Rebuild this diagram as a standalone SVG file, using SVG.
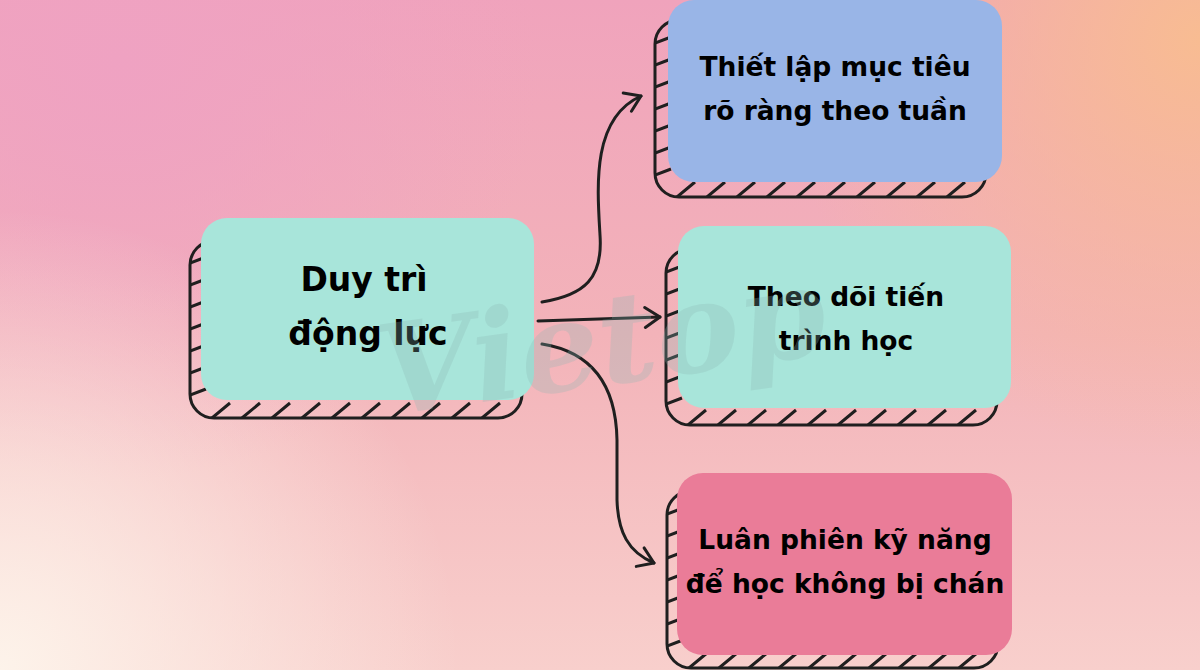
<svg xmlns="http://www.w3.org/2000/svg" width="1200" height="670" viewBox="0 0 1200 670">
  <defs>
    <linearGradient id="bg" x1="0" y1="0" x2="0" y2="1">
      <stop offset="0" stop-color="#F0A3BC"/>
      <stop offset="0.5" stop-color="#F3B3B9"/>
      <stop offset="1" stop-color="#F8CFCC"/>
    </linearGradient>
    <radialGradient id="peach" cx="1200" cy="40" r="420" gradientUnits="userSpaceOnUse">
      <stop offset="0" stop-color="#F8BC92" stop-opacity="1"/>
      <stop offset="1" stop-color="#F8BC92" stop-opacity="0"/>
    </radialGradient>
    <radialGradient id="cream" cx="0" cy="670" r="460" gradientUnits="userSpaceOnUse">
      <stop offset="0" stop-color="#FDF3EA" stop-opacity="1"/>
      <stop offset="1" stop-color="#FDF3EA" stop-opacity="0"/>
    </radialGradient>
    <radialGradient id="pinkTL" cx="120" cy="60" r="420" gradientUnits="userSpaceOnUse">
      <stop offset="0" stop-color="#EFA2C2" stop-opacity="1"/>
      <stop offset="1" stop-color="#EFA2C2" stop-opacity="0"/>
    </radialGradient>
    <clipPath id="c0"><rect x="190" y="241" width="332" height="177" rx="24"/></clipPath>
    <clipPath id="c1"><rect x="655" y="20" width="331" height="177" rx="24"/></clipPath>
    <clipPath id="c2"><rect x="666" y="249" width="331" height="176" rx="24"/></clipPath>
    <clipPath id="c3"><rect x="667" y="491" width="331" height="177" rx="24"/></clipPath>
    <marker id="head" viewBox="0 0 26 26" refX="21" refY="13" markerWidth="26" markerHeight="26" markerUnits="userSpaceOnUse" orient="auto">
      <path d="M6 3 L21 13 L6 23" fill="none" stroke="#1f1f1f" stroke-width="3" stroke-linecap="round" stroke-linejoin="round"/>
    </marker>
  </defs>
  <style>
    .shadow { fill: none; stroke: #1f1f1f; stroke-width: 3; }
    .tick { fill: none; stroke: #1f1f1f; stroke-width: 3; stroke-linecap: butt; }
    .conn { fill: none; stroke: #1f1f1f; stroke-width: 3; stroke-linecap: round; }
    .lbl { font-family: "DejaVu Sans", Inter, sans-serif; font-weight: 700; fill: #000; text-anchor: middle; }
    .big { font-size: 33px; }
    .small { font-size: 26.5px; }
  </style>

  <rect width="1200" height="670" fill="url(#bg)"/>
  <rect width="1200" height="670" fill="url(#pinkTL)"/>
  <rect width="1200" height="670" fill="url(#peach)"/>
  <rect width="1200" height="670" fill="url(#cream)"/>

  <g id="node-main">
    <g clip-path="url(#c0)">
      <path class="tick" d="M190 263 l16 -6 M190 285 l16 -6 M190 307 l16 -6 M190 329 l16 -6 M190 351 l16 -6 M190 373 l16 -6 M190 395 l16 -6"/>
      <path class="tick" d="M212 418 l18 -15 M242 418 l18 -15 M272 418 l18 -15 M302 418 l18 -15 M332 418 l18 -15 M362 418 l18 -15 M392 418 l18 -15 M422 418 l18 -15 M452 418 l18 -15 M482 418 l18 -15"/>
    </g>
    <rect class="shadow" x="190" y="241" width="332" height="177" rx="24"/>
    <rect x="201" y="218" width="333" height="182" rx="26" fill="#A8E5DA"/>
    <text class="lbl big" x="364" y="291">Duy trì</text>
    <text class="lbl big" x="368" y="345">động lực</text>
  </g>

  <g id="node-goals">
    <g clip-path="url(#c1)">
      <path class="tick" d="M655 43 l16 -6 M655 65 l16 -6 M655 87 l16 -6 M655 109 l16 -6 M655 131 l16 -6 M655 153 l16 -6 M655 175 l16 -6"/>
      <path class="tick" d="M677 197 l18 -15 M707 197 l18 -15 M737 197 l18 -15 M767 197 l18 -15 M797 197 l18 -15 M827 197 l18 -15 M857 197 l18 -15 M887 197 l18 -15 M917 197 l18 -15 M947 197 l18 -15"/>
    </g>
    <rect class="shadow" x="655" y="20" width="331" height="177" rx="24"/>
    <rect x="668" y="0" width="334" height="182" rx="26" fill="#99B5E7"/>
    <text class="lbl small" x="835" y="76">Thiết lập mục tiêu</text>
    <text class="lbl small" x="835" y="120">rõ ràng theo tuần</text>
  </g>

  <g id="node-track">
    <g clip-path="url(#c2)">
      <path class="tick" d="M666 272 l16 -6 M666 294 l16 -6 M666 316 l16 -6 M666 338 l16 -6 M666 360 l16 -6 M666 382 l16 -6 M666 404 l16 -6"/>
      <path class="tick" d="M688 425 l18 -15 M718 425 l18 -15 M748 425 l18 -15 M778 425 l18 -15 M808 425 l18 -15 M838 425 l18 -15 M868 425 l18 -15 M898 425 l18 -15 M928 425 l18 -15 M958 425 l18 -15"/>
    </g>
    <rect class="shadow" x="666" y="249" width="331" height="176" rx="24"/>
    <rect x="678" y="226" width="333" height="182" rx="26" fill="#A8E5DA"/>
    <text class="lbl small" x="846" y="306">Theo dõi tiến</text>
    <text class="lbl small" x="846" y="350">trình học</text>
  </g>

  <g id="node-rotate">
    <g clip-path="url(#c3)">
      <path class="tick" d="M667 514 l16 -6 M667 536 l16 -6 M667 558 l16 -6 M667 580 l16 -6 M667 602 l16 -6 M667 624 l16 -6 M667 646 l16 -6"/>
      <path class="tick" d="M689 668 l18 -15 M719 668 l18 -15 M749 668 l18 -15 M779 668 l18 -15 M809 668 l18 -15 M839 668 l18 -15 M869 668 l18 -15 M899 668 l18 -15 M929 668 l18 -15 M959 668 l18 -15"/>
    </g>
    <rect class="shadow" x="667" y="491" width="331" height="177" rx="24"/>
    <rect x="677" y="473" width="335" height="182" rx="26" fill="#EA7C98"/>
    <text class="lbl small" x="845" y="549">Luân phiên kỹ năng</text>
    <text class="lbl small" x="845" y="593">để học không bị chán</text>
  </g>

  <g id="connectors">
    <path class="conn" marker-end="url(#head)" d="M542 302 C585 295 603 278 600 235 C597 185 592 118 641 96"/>
    <path class="conn" marker-end="url(#head)" d="M538 321 L660 317"/>
    <path class="conn" marker-end="url(#head)" d="M542 344 C592 352 616 385 617 440 L617 500 C618 532 628 552 654 563"/>
  </g>

  <text x="600" y="385" font-family="'DejaVu Serif', serif" font-style="italic" font-weight="700" font-size="125" fill="#8DB8B4" fill-opacity="0.28" text-anchor="middle" transform="rotate(-8 600 330)">Vietop</text>
</svg>
